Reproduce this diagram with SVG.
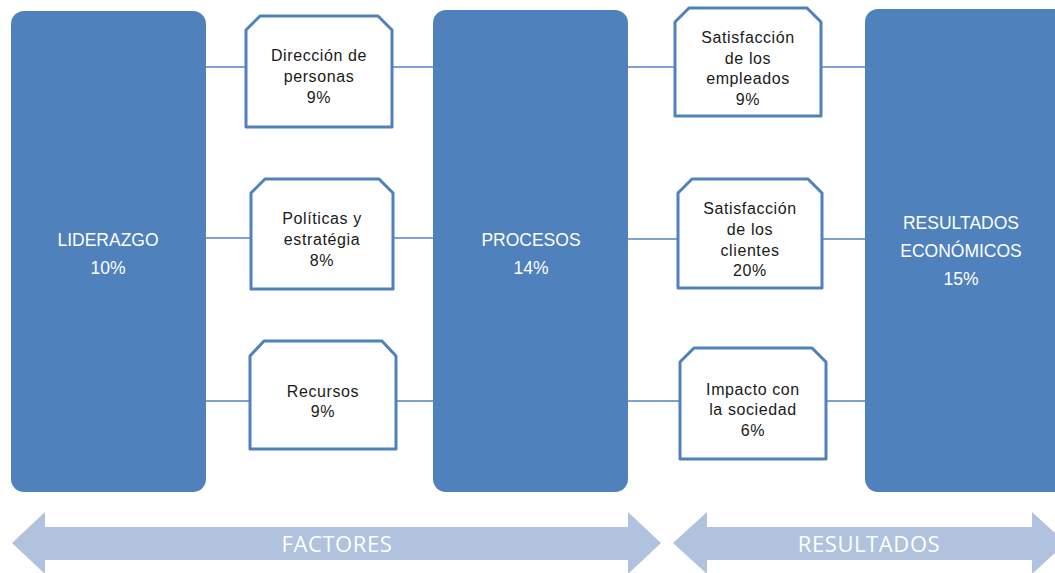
<svg xmlns="http://www.w3.org/2000/svg" width="1055" height="573" viewBox="0 0 1055 573">
  <style>
    .big { fill: #4F81BD; }
    .bigtxt { fill: #FFFFFF; font-family: "Liberation Sans", Arial, sans-serif; font-size: 17.5px; text-anchor: middle; }
    .card { fill: #FFFFFF; stroke: #4F81BD; stroke-width: 3; stroke-linejoin: round; }
    .cardtxt { fill: #1A1A1A; font-family: "Liberation Sans", Arial, sans-serif; font-size: 16px; letter-spacing: 0.6px; text-anchor: middle; }
    .link { stroke: #7EA2D0; stroke-width: 2; fill: none; }
    .band { fill: #B0C2DE; }
    .bandtxt { fill: #FFFFFF; font-family: "Open Sans", "Liberation Sans", sans-serif; font-size: 22px; letter-spacing: 0.6px; text-anchor: middle; }
  </style>

  <!-- connectors -->
  <g id="connectors">
    <line class="link" x1="206" y1="67" x2="246" y2="67"/>
    <line class="link" x1="392" y1="67" x2="434" y2="67"/>
    <line class="link" x1="206" y1="238" x2="251" y2="238"/>
    <line class="link" x1="393" y1="238" x2="434" y2="238"/>
    <line class="link" x1="206" y1="401" x2="250" y2="401"/>
    <line class="link" x1="396" y1="401" x2="434" y2="401"/>
    <line class="link" x1="627" y1="67" x2="675" y2="67"/>
    <line class="link" x1="821" y1="67" x2="866" y2="67"/>
    <line class="link" x1="627" y1="239" x2="678" y2="239"/>
    <line class="link" x1="822" y1="239" x2="866" y2="239"/>
    <line class="link" x1="627" y1="401" x2="680" y2="401"/>
    <line class="link" x1="826" y1="401" x2="866" y2="401"/>
  </g>

  <!-- main blocks -->
  <g id="liderazgo">
    <rect class="big" x="11" y="11" width="195" height="481" rx="13"/>
    <text class="bigtxt" x="108" y="246">LIDERAZGO</text>
    <text class="bigtxt" x="108" y="274">10%</text>
  </g>
  <g id="procesos">
    <rect class="big" x="433" y="10" width="195" height="482" rx="13"/>
    <text class="bigtxt" x="531" y="246">PROCESOS</text>
    <text class="bigtxt" x="531" y="274">14%</text>
  </g>
  <g id="resultados-economicos">
    <rect class="big" x="865" y="9" width="202" height="483" rx="13"/>
    <text class="bigtxt" x="961" y="229">RESULTADOS</text>
    <text class="bigtxt" x="961" y="257">ECONÓMICOS</text>
    <text class="bigtxt" x="961" y="285">15%</text>
  </g>

  <!-- factor cards -->
  <g id="direccion-personas">
    <path class="card" d="M246,30 L260,16 L378,16 L392,30 L392,127 L246,127 Z"/>
    <text class="cardtxt" x="319" y="61">Dirección de</text>
    <text class="cardtxt" x="319" y="82">personas</text>
    <text class="cardtxt" x="319" y="103">9%</text>
  </g>
  <g id="politicas-estrategia">
    <path class="card" d="M251,193 L265,179 L379,179 L393,193 L393,289 L251,289 Z"/>
    <text class="cardtxt" x="322" y="224">Políticas y</text>
    <text class="cardtxt" x="322" y="245">estratégia</text>
    <text class="cardtxt" x="322" y="266">8%</text>
  </g>
  <g id="recursos">
    <path class="card" d="M250,356 L264,341 L382,341 L396,356 L396,449 L250,449 Z"/>
    <text class="cardtxt" x="323" y="397">Recursos</text>
    <text class="cardtxt" x="323" y="417">9%</text>
  </g>

  <!-- result cards -->
  <g id="satisfaccion-empleados">
    <path class="card" d="M675,22 L689,8 L807,8 L821,22 L821,116 L675,116 Z"/>
    <text class="cardtxt" x="748" y="43">Satisfacción</text>
    <text class="cardtxt" x="748" y="64">de los</text>
    <text class="cardtxt" x="748" y="84">empleados</text>
    <text class="cardtxt" x="748" y="105">9%</text>
  </g>
  <g id="satisfaccion-clientes">
    <path class="card" d="M678,193 L692,179 L808,179 L822,193 L822,288 L678,288 Z"/>
    <text class="cardtxt" x="750" y="214">Satisfacción</text>
    <text class="cardtxt" x="750" y="235">de los</text>
    <text class="cardtxt" x="750" y="256">clientes</text>
    <text class="cardtxt" x="750" y="276">20%</text>
  </g>
  <g id="impacto-sociedad">
    <path class="card" d="M680,362 L694,348 L812,348 L826,362 L826,459 L680,459 Z"/>
    <text class="cardtxt" x="753" y="395">Impacto con</text>
    <text class="cardtxt" x="753" y="415">la sociedad</text>
    <text class="cardtxt" x="753" y="436">6%</text>
  </g>

  <!-- bottom bands -->
  <g id="factores">
    <path class="band" d="M12,543 L45,512 L45,527 L628,527 L628,512 L661,543 L628,574 L628,560 L45,560 L45,574 Z"/>
    <text class="bandtxt" x="337" y="552">FACTORES</text>
  </g>
  <g id="resultados">
    <path class="band" d="M673,543 L707,512 L707,527 L1032,527 L1032,512 L1055,533 L1055,553 L1032,574 L1032,560 L707,560 L707,574 Z"/>
    <text class="bandtxt" x="869" y="552">RESULTADOS</text>
  </g>
</svg>
